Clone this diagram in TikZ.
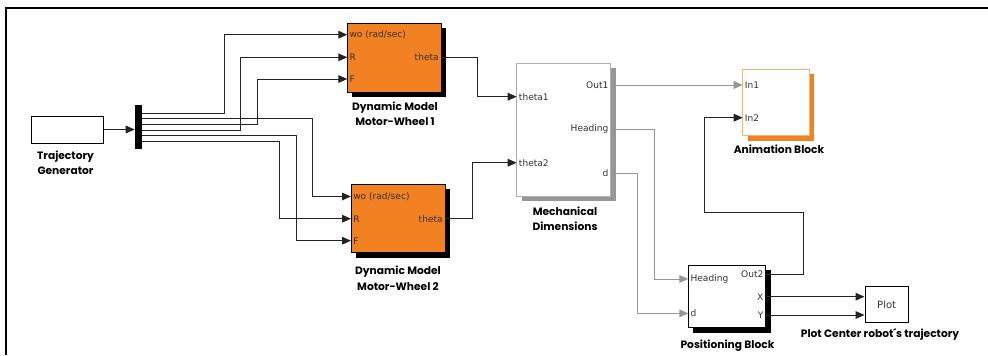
\documentclass[tikz,border=0pt]{standalone}
\usepackage{fontspec}
\usetikzlibrary{arrows.meta,positioning,fit,shadows}
\newfontfamily\lblfont{Poppins}
\newfontfamily\portfont{DejaVu Sans}
\definecolor{simorange}{RGB}{242,129,33}
\definecolor{lightorange}{RGB}{247,180,115}
\definecolor{sigdark}{RGB}{35,35,35}
\definecolor{siggray}{RGB}{150,150,150}
\definecolor{mechgray}{RGB}{175,175,175}

\tikzset{
  blk/.style={draw=black, line width=0.75pt, inner sep=0pt},
  dynblk/.style={blk, fill=simorange,
    drop shadow={shadow xshift=3.75pt, shadow yshift=-3.75pt, fill=black, opacity=1}},
  mechblk/.style={blk, draw=mechgray, fill=white,
    drop shadow={shadow xshift=3.75pt, shadow yshift=-3.75pt, fill=siggray, opacity=1}},
  animblk/.style={blk, draw=lightorange, fill=white,
    drop shadow={shadow xshift=3.75pt, shadow yshift=-3.75pt, fill=simorange, opacity=1}},
  posblk/.style={blk, fill=white,
    drop shadow={shadow xshift=3.75pt, shadow yshift=-3.75pt, fill=black, opacity=1}},
  port/.style={font=\portfont\fontsize{6.8}{7}\selectfont, inner sep=1.5pt, text=black!80},
  lbl/.style={font=\lblfont\bfseries\fontsize{8}{11.5}\selectfont, align=center, inner sep=0pt},
  sig/.style={draw=sigdark, line width=0.75pt, -{Triangle[length=6.75pt,width=5.75pt]}},
  gsig/.style={draw=siggray, line width=0.75pt, -{Triangle[length=6.75pt,width=5.75pt,fill=siggray]}},
}

\begin{document}
\begin{tikzpicture}[x=0.75pt,y=-0.75pt]
\useasboundingbox (0,0) rectangle (988,355);

% frame
\draw[line width=1.5pt] (5.5,355) -- (5.5,7.7) -- (988,7.7);

% trajectory generator and demux
\node[blk, fit={(31,116) (103,143)}] (tg) {};
\node[lbl] (tglbl) at (65.5,162.5) {Trajectory\\Generator};
\node[fill=black, inner sep=0pt, fit={(135,105) (142,149)}] (demux) {};
\draw[sig] (tg.east) -- (demux.west |- tg.east);
\foreach \i/\y in {1/113.3,2/118.7,3/124.3,4/130,5/135.7,6/141}
  \coordinate (dm\i) at (142,\y);

% dynamic model motor-wheel 1
\node[dynblk, fit={(347.3,23.3) (441,92)}] (mw1) {};
\node[port, anchor=west] (mw1wo) at (347.3,34.7) {wo (rad/sec)};
\node[port, anchor=west] (mw1r) at (347.3,57.3) {R};
\node[port, anchor=west] (mw1f) at (347.3,79) {F};
\node[port, anchor=east] (mw1th) at (441,57.3) {theta};
\node[lbl] (mw1lbl) at (395,114) {Dynamic Model\\Motor-Wheel 1};

% dynamic model motor-wheel 2
\node[dynblk, fit={(351,184.3) (445,252.7)}] (mw2) {};
\node[port, anchor=west] (mw2wo) at (351,196.5) {wo (rad/sec)};
\node[port, anchor=west] (mw2r) at (351,218.7) {R};
\node[port, anchor=west] (mw2f) at (351,240.7) {F};
\node[port, anchor=east] (mw2th) at (445,218.7) {theta};
\node[lbl] (mw2lbl) at (398,278.3) {Dynamic Model\\Motor-Wheel 2};

% mechanical dimensions
\node[mechblk, fit={(516.7,63.3) (610.7,196)}] (md) {};
\node[port, anchor=west] (mdth1) at (516.7,96.7) {theta1};
\node[port, anchor=west] (mdth2) at (516.7,162.7) {theta2};
\node[port, anchor=east] (mdout) at (610.7,85) {Out1};
\node[port, anchor=east] (mdhd) at (610.7,129.3) {Heading};
\node[port, anchor=east] (mdd) at (610.7,173.3) {d};
\node[lbl] (mdlbl) at (565,219) {Mechanical\\Dimensions};

% animation block
\node[animblk, fit={(742.7,69) (809.3,135.7)}] (an) {};
\node[port, anchor=west] (anin1) at (742.7,85) {In1};
\node[port, anchor=west] (anin2) at (742.7,117.7) {In2};
\node[lbl] (anlbl) at (779,149.7) {Animation Block};

% positioning block
\node[posblk, fit={(688.3,265) (765.7,327.7)}] (pb) {};
\node[port, anchor=west] (pbhd) at (688.3,279) {Heading};
\node[port, anchor=west] (pbd) at (688.3,313.3) {d};
\node[port, anchor=east] (pbout) at (765.7,274.3) {Out2};
\node[port, anchor=east] (pbx) at (765.7,296.7) {X};
\node[port, anchor=east] (pby) at (765.7,315) {Y};
\node[lbl] (pblbl) at (727.5,345.7) {Positioning Block};

% plot
\node[blk, fit={(865,286.7) (908.3,322.7)}] (plt) {};
\node[port, font=\portfont\fontsize{7.5}{8}\selectfont] (plttxt) at (plt.center) {Plot};
\node[lbl] (pltlbl) at (880,334.3) {Plot Center robot\textasciiacute s trajectory};

% demux to motor-wheel inputs
\draw[sig] (dm1) -- ++(82,0) |- (mw1wo.west);
\draw[sig] (dm4) -- ++(98.7,0) |- (mw1r.west);
\draw[sig] (dm3) -- ++(115,0) |- (mw1f.west);
\draw[sig] (dm2) -- ++(170.7,0) |- (mw2wo.west);
\draw[sig] (dm6) -- ++(137,0) |- (mw2r.west);
\draw[sig] (dm5) -- ++(154,0) |- (mw2f.west);

% motor-wheels to mechanical dimensions
\draw[sig] (mw1th.east) -- ++(36.7,0) |- (mdth1.west);
\draw[sig] (mw2th.east) -- ++(27.7,0) |- (mdth2.west);

% mechanical dimensions outputs
\draw[gsig] (mdout.east) -- (anin1.west);
\draw[gsig] (mdhd.east) -- ++(43.6,0) |- (pbhd.west);
\draw[gsig] (mdd.east) -- ++(26.6,0) |- (pbd.west);

% positioning block outputs
\draw[sig] (pbout.east) -- ++(37.6,0) |- (704.3,212.7) |- (anin2.west);
\draw[sig] (pbx.east) -- (plt.west |- pbx.east);
\draw[sig] (pby.east) -- (plt.west |- pby.east);
\end{tikzpicture}
\end{document}
